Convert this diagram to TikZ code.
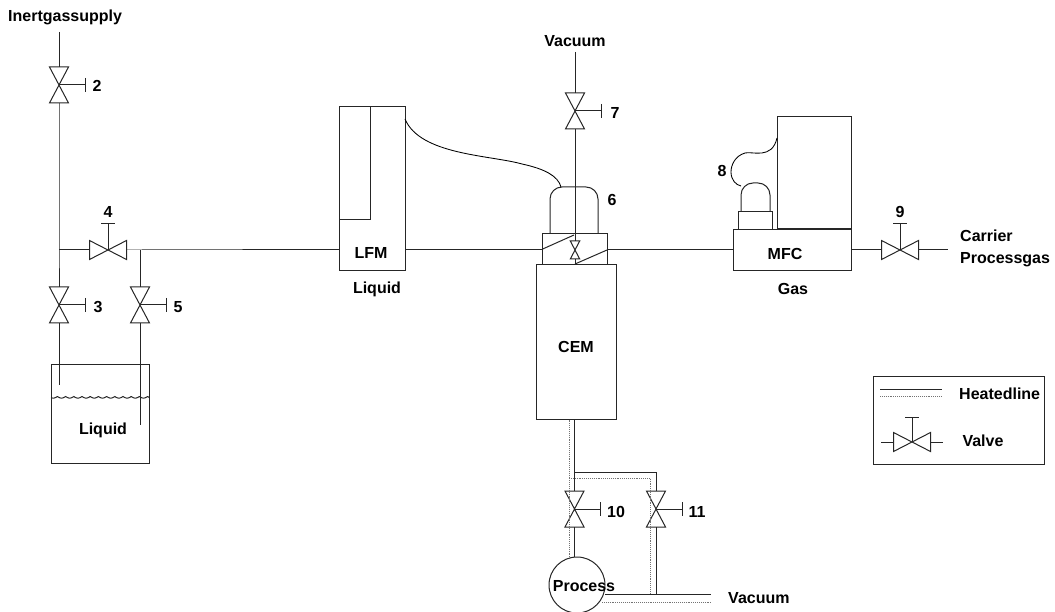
\documentclass[tikz,border=0pt]{standalone}
\usepackage{fontspec}
\setmainfont{Liberation Sans}
\usetikzlibrary{calc}
\tikzset{
  pipe/.style={draw=black!85,line width=1pt},
  dotline/.style={draw=black!55,line width=0.9pt,densely dotted},
  boxn/.style={draw=black!85,line width=1pt,rectangle,inner sep=0pt,outer sep=0pt},
  lab/.style={font=\fontsize{16}{18}\selectfont\bfseries,inner sep=0pt,text=black}
}
% vertical valve: name, x, y
\newcommand{\vval}[3]{%
  \coordinate (#1) at (#2,#3);
  \begin{scope}[shift={(#1)}]
    \coordinate (#1t) at (0,-18);
    \coordinate (#1b) at (0,18);
    \coordinate (#1h) at (26,0);
    \draw[pipe] (-9.5,-18) -- (9.5,-18) -- (-9.5,18) -- (9.5,18) -- cycle;
    \draw[pipe] (0,0) -- (#1h);
    \draw[pipe] (26,-7) -- (26,7);
  \end{scope}}
% horizontal valve: name, x, y
\newcommand{\hval}[3]{%
  \coordinate (#1) at (#2,#3);
  \begin{scope}[shift={(#1)}]
    \coordinate (#1l) at (-18.5,0);
    \coordinate (#1r) at (18.5,0);
    \draw[pipe] (-18.5,-9.5) -- (-18.5,9.5) -- (18.5,-9.5) -- (18.5,9.5) -- cycle;
    \draw[pipe] (0,0) -- (0,-26);
    \draw[pipe] (-7,-26) -- (7,-26);
  \end{scope}}
\begin{document}
\begin{tikzpicture}[x=1pt,y=-1pt]
\useasboundingbox (0,0) rectangle (1055,612);
% free pipe ends
\coordinate (inert) at (59,32);
\coordinate (vac1) at (575,52);
\coordinate (j1) at (59,250);
\coordinate (j2) at (140,250);
\coordinate (p3end) at (59,385);
\coordinate (p5end) at (140,425);
\coordinate (carrier) at (948,250);
% valves
\vval{v2}{59}{85}
\vval{v3}{59}{305}
\vval{v5}{140}{305}
\hval{v4}{108}{250}
\vval{v7}{575}{111}
\hval{v9}{900}{250}
\vval{v10}{574.5}{509}
\vval{v11}{656}{509}
% boxes
\node[boxn,minimum width=98pt,minimum height=99pt] (tank) at (100,413.5) {};
\node[boxn,minimum width=66pt,minimum height=164pt] (lfm) at (372,189) {};
\node[boxn,minimum width=31pt,minimum height=113pt] (lfmtop) at (354.5,163.5) {};
\node[boxn,minimum width=65pt,minimum height=31pt] (head) at (574.7,249.5) {};
\node[boxn,minimum width=80pt,minimum height=154pt] (cem) at (576,342) {};
\node[boxn,minimum width=118pt,minimum height=41pt] (mfc) at (792,250.5) {};
\node[boxn,minimum width=74pt,minimum height=112pt] (mfctop) at (814,173) {};
\node[boxn,minimum width=34pt,minimum height=18pt] (mfcsm) at (755,221) {};
\node[boxn,circle,minimum size=56pt] (proc) at (577,585) {};
% domes
\draw[pipe] (550,234) -- (550,199) arc[start angle=180,end angle=270,radius=12] -- (586,187) arc[start angle=270,end angle=360,radius=12] -- (598,234);
\coordinate (domeA) at (561,187);
\draw[pipe] (741,212) -- (741,195) arc[start angle=180,end angle=270,radius=12] -- (758,183) arc[start angle=270,end angle=360,radius=12] -- (770,212);
\coordinate (domeB) at (741,186);
% small valve in the head
\coordinate (sv) at (575,250);
\draw[pipe] (570.3,241) -- (579.7,241) -- (570.3,259) -- (579.7,259) -- cycle;
\draw[pipe] (542.7,249) -- (574,235);
\draw[pipe] (575,264) -- (607,250);
% pipes, left side
\draw[pipe] (inert) -- (v2t);
\draw[pipe] (v2b) -- (j1) -- (v3t);
\draw[pipe] (v3b) -- (p3end);
\draw[pipe] (j1) -- (v4l);
\draw[pipe] (v4r) -- (j2) -- (lfm.west |- j2);
\draw[pipe] (j2) -- (v5t);
\draw[pipe] (v5b) -- (p5end);
\draw[pipe] plot[domain=51:149,samples=250,smooth] (\x,{396.5+1.6*abs(sin(\x/8.2*180))});
% centre
\draw[pipe] (lfm.east |- sv) -- (head.west |- sv);
\draw[pipe] (head.east |- sv) -- (mfc.west |- sv);
\draw[pipe] (mfc.east |- sv) -- (v9l);
\draw[pipe] (v9r) -- (carrier);
\draw[pipe] (vac1) -- (v7t);
\draw[pipe] (v7b) -- (575,241);
\draw[pipe] (575,259) -- (575,265);
% capillaries
\draw[line width=0.85pt] (405,119) .. controls (420,155) and (490,155) .. (522,164) .. controls (545,169) and (558,176) .. (domeA);
\draw[line width=0.85pt] (777,138) .. controls (772,160) and (752,151) .. (745,153) .. controls (735,156) and (731,165) .. (731,172) .. controls (731,180) and (736,185) .. (domeB);
% lower heated lines
\draw[pipe] (cem.south -| v10) -- (v10t);
\draw[dotline] (569,419.5) -- (569,557.5);
\draw[pipe] (v10b) -- (proc.north -| v10b);
\coordinate (jh) at (574.5,472);
\draw[pipe] (jh) -- (jh -| v11) -- (v11t);
\coordinate (jv) at (656,594);
\coordinate (vac2) at (711,594);
\coordinate (vac2d) at (711,602);
\draw[pipe] (v11b) -- (jv);
\draw[pipe] (605,594) -- (vac2);
\draw[dotline] (569,478) -- (650,478) -- (650,593);
\draw[dotline] (602,602) -- (vac2d);
% legend
\node[boxn,minimum width=171pt,minimum height=88pt] (legend) at (958.5,420) {};
\coordinate (la) at (880,389);
\coordinate (lb) at (942,389);
\coordinate (lc) at (880,396);
\coordinate (ld) at (942,396);
\draw[pipe] (la) -- (lb);
\draw[dotline] (lc) -- (ld);
\coordinate (lv) at (912,442);
\coordinate (lvl) at (881,442);
\coordinate (lvr) at (943,442);
\draw[pipe] (893.5,432.5) -- (893.5,451.5) -- (930.5,432.5) -- (930.5,451.5) -- cycle;
\draw[pipe] (lv) -- (912,417);
\draw[pipe] (905,417) -- (919,417);
\draw[pipe] (lvl) -- (893.5,442);
\draw[pipe] (930.5,442) -- (lvr);
% labels
\node[lab,anchor=west] (t0) at (8,17) {Inertgassupply};
\node[lab] (t2) at (97,86) {2};
\node[lab] (t3) at (98,307) {3};
\node[lab] (t4) at (108,212) {4};
\node[lab] (t5) at (178,307) {5};
\node[lab] (t6) at (612,200) {6};
\node[lab] (t7) at (615,113) {7};
\node[lab] (t8) at (722,171) {8};
\node[lab] (t9) at (900,212) {9};
\node[lab] (t10) at (616,512) {10};
\node[lab] (t11) at (697,512) {11};
\node[lab] (tv1) at (575,41) {Vacuum};
\node[lab] (tliq) at (103,430) {Liquid};
\node[lab] (tlfm) at (371,253) {LFM};
\node[lab] (tliq2) at (377,289) {Liquid};
\node[lab] (tcem) at (576,347) {CEM};
\node[lab] (tmfc) at (785,254) {MFC};
\node[lab] (tgas) at (793,289) {Gas};
\node[lab,anchor=west] (tcar) at (960,236) {Carrier};
\node[lab,anchor=west] (tpg) at (960,260) {Processgas};
\node[lab] (tproc) at (584,586) {Process};
\node[lab,anchor=west] (tv2) at (728,598) {Vacuum};
\node[lab,anchor=west] (thl) at (959,394) {Heatedline};
\node[lab] (tval) at (983,441) {Valve};
\end{tikzpicture}
\end{document}
